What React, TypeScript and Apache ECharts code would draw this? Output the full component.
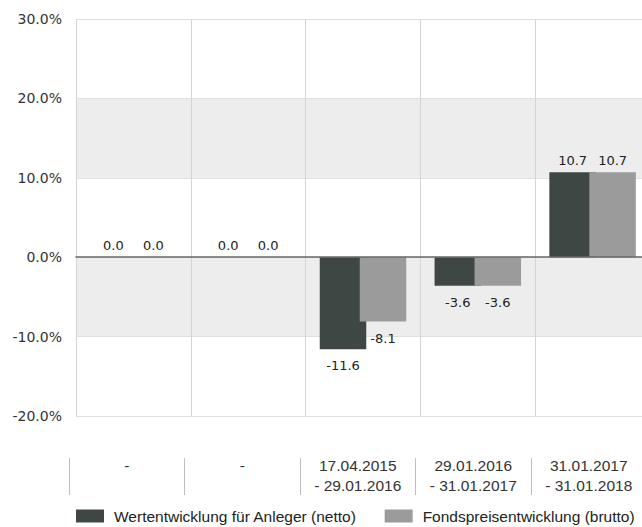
import React, { useEffect, useRef } from "react";
import * as echarts from "echarts";

const categories = [
  "-",
  "-",
  "17.04.2015\n- 29.01.2016",
  "29.01.2016\n- 31.01.2017",
  "31.01.2017\n- 31.01.2018",
];
const seriesNames = [
  "Wertentwicklung für Anleger (netto)",
  "Fondspreisentwicklung (brutto)",
];
const netto = [0.0, 0.0, -11.6, -3.6, 10.7];
const brutto = [0.0, 0.0, -8.1, -3.6, 10.7];
const yMin = -20;
const yMax = 30;
const yStep = 10;

const colors = ["#3f4745", "#9b9b9b"];

function toData(values: number[]) {
  return values.map((v) => ({
    value: v,
    label: { position: v < 0 ? "bottom" : "top", distance: v < 0 ? 10 : 5 },
  }));
}

export default function App() {
  const ref = useRef<HTMLDivElement>(null);
  useEffect(() => {
    if (!ref.current) return;
    const chart = echarts.init(ref.current, null, { renderer: "svg" });
    const labelCommon = {
      show: true,
      formatter: (p: any) => Number(p.value).toFixed(1),
      fontFamily: "DejaVu Sans",
      fontSize: 13,
      color: "#222",
    };
    const option: any = {
      animation: false,
      grid: [
        { left: 76, top: 19, width: 574, height: 397, outerBoundsMode: "none", containLabel: false },
        { left: 69, top: 450, width: 577.5, height: 8, outerBoundsMode: "none", containLabel: false },
      ],
      xAxis: [
        {
          type: "category",
          gridIndex: 0,
          data: categories,
          axisLine: { onZero: true, lineStyle: { color: "#666", width: 1.5 } },
          axisTick: { show: false },
          axisLabel: { show: false },
          splitLine: { show: true, lineStyle: { color: "#d4d4d4", width: 1 } },
          z: 5,
        },
        {
          type: "category",
          gridIndex: 1,
          data: categories,
          position: "bottom",
          axisLine: { show: false },
          axisTick: { show: true, length: 37, lineStyle: { color: "#bdbdbd", width: 1 } },
          axisLabel: {
            interval: 0,
            margin: -3,
            color: "#333",
            fontFamily: "Liberation Sans",
            fontSize: 15.5,
            lineHeight: 20,
          },
          splitLine: { show: false },
        },
      ],
      yAxis: [
        {
          type: "value",
          gridIndex: 0,
          min: yMin,
          max: yMax,
          interval: yStep,
          axisLine: { show: false },
          axisTick: { show: false },
          axisLabel: {
            formatter: (v: number) => v.toFixed(1) + "%",
            margin: 14,
            color: "#333",
            fontFamily: "DejaVu Sans",
            fontSize: 14,
          },
          splitLine: { show: true, lineStyle: { color: "#e0e0e0" } },
          splitArea: { show: true, areaStyle: { color: ["#ffffff", "#ededed"] } },
        },
        { type: "value", gridIndex: 1, show: false },
      ],
      legend: {
        left: 76,
        top: 508,
        padding: 0,
        itemWidth: 28,
        itemHeight: 13,
        itemGap: 28,
        icon: "rect",
        data: seriesNames,
        textStyle: {
          fontFamily: "Liberation Sans",
          fontSize: 15.5,
          color: "#222",
          padding: [0, 0, 0, 5],
        },
      },
      series: [
        {
          name: seriesNames[0],
          type: "bar",
          xAxisIndex: 0,
          yAxisIndex: 0,
          data: toData(netto),
          barWidth: 46.5,
          barGap: "-14%",
          itemStyle: { color: colors[0] },
          label: labelCommon,
        },
        {
          name: seriesNames[1],
          type: "bar",
          xAxisIndex: 0,
          yAxisIndex: 0,
          data: toData(brutto),
          barWidth: 46.5,
          barGap: "-14%",
          itemStyle: { color: colors[1] },
          label: labelCommon,
        },
      ],
    };
    chart.setOption(option);
    return () => chart.dispose();
  }, []);
  return (
    <div
      ref={ref}
      style={{ position: "fixed", left: 0, top: 0, width: 642, height: 527, background: "#fff" }}
    />
  );
}
